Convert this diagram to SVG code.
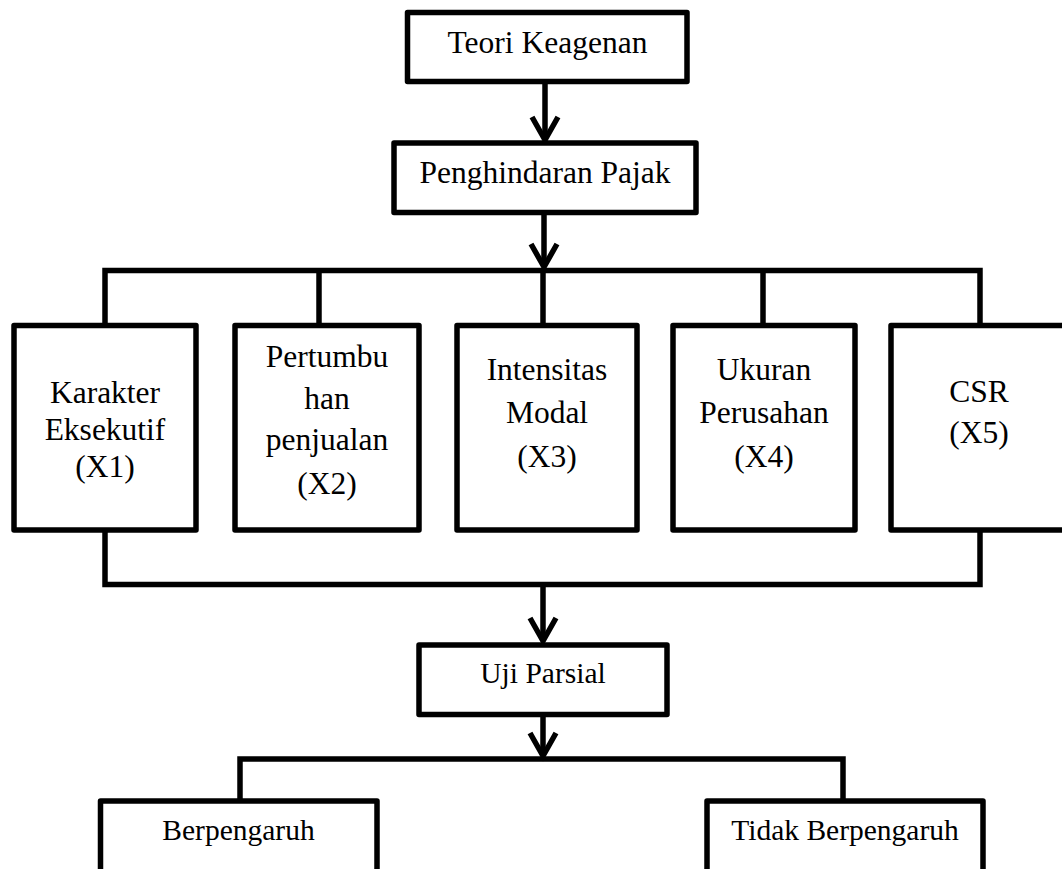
<svg xmlns="http://www.w3.org/2000/svg" width="1062" height="869" viewBox="0 0 1062 869">
<style>
.box{fill:#fff;stroke:#000;stroke-width:5.5;stroke-linejoin:round}
.ln{fill:none;stroke:#000;stroke-width:5.5;stroke-linejoin:miter;stroke-linecap:butt}
.hd{fill:none;stroke:#000;stroke-width:5.5;stroke-linejoin:miter;stroke-linecap:butt}
text{font-family:"Liberation Serif","Times New Roman",serif;font-size:31.5px;fill:#000;text-anchor:middle}
.sm{font-size:29.5px}
</style>
<rect width="1062" height="869" fill="#fff"/>
<g id="connectors">
<line class="ln" x1="545" y1="84" x2="545" y2="138"/>
<polyline class="hd" points="532,117 545,140 558,117"/>
<line class="ln" x1="544" y1="215" x2="544" y2="265"/>
<polyline class="hd" points="531,244 544,267 557,244"/>
<polyline class="ln" points="105,325 105,270.5 980,270.5 980,325"/>
<line class="ln" x1="319" y1="270.5" x2="319" y2="325"/>
<line class="ln" x1="543" y1="270.5" x2="543" y2="325"/>
<line class="ln" x1="763" y1="270.5" x2="763" y2="325"/>
<polyline class="ln" points="105,530 105,584.5 980,584.5 980,530"/>
<line class="ln" x1="543" y1="587" x2="543" y2="639"/>
<polyline class="hd" points="530,618 543,641 556,618"/>
<line class="ln" x1="543" y1="717" x2="543" y2="753"/>
<polyline class="hd" points="530,733 543,756 556,733"/>
<polyline class="ln" points="240,801 240,759 843,759 843,801"/>
</g>
<g id="teori">
<rect class="box" x="407.5" y="12.5" width="279.5" height="69"/>
<text x="547.5" y="53">Teori Keagenan</text>
</g>
<g id="penghindaran">
<rect class="box" x="394" y="143" width="302" height="69.5"/>
<text x="545" y="183">Penghindaran Pajak</text>
</g>
<g id="x1">
<rect class="box" x="14" y="325.5" width="182" height="204.5"/>
<text x="105" y="403">Karakter</text>
<text x="105" y="440">Eksekutif</text>
<text x="105" y="477">(X1)</text>
</g>
<g id="x2">
<rect class="box" x="235" y="325.5" width="184" height="204.5"/>
<text x="327" y="367">Pertumbu</text>
<text x="327" y="409">han</text>
<text x="327" y="450">penjualan</text>
<text x="327" y="494">(X2)</text>
</g>
<g id="x3">
<rect class="box" x="457" y="325.5" width="180" height="204.5"/>
<text x="547" y="380">Intensitas</text>
<text x="547" y="423">Modal</text>
<text x="547" y="467">(X3)</text>
</g>
<g id="x4">
<rect class="box" x="673" y="325.5" width="182" height="204.5"/>
<text x="764" y="380">Ukuran</text>
<text x="764" y="423">Perusahan</text>
<text x="764" y="467">(X4)</text>
</g>
<g id="x5">
<rect class="box" x="891" y="325.5" width="190" height="204.5"/>
<text x="979" y="402">CSR</text>
<text x="979" y="443">(X5)</text>
</g>
<g id="uji">
<rect class="box" x="419" y="645" width="248" height="69.5"/>
<text class="sm" x="543" y="683">Uji Parsial</text>
</g>
<g id="berpengaruh">
<rect class="box" x="100.5" y="801" width="276.5" height="100"/>
<text class="sm" x="238.5" y="840">Berpengaruh</text>
</g>
<g id="tidak">
<rect class="box" x="707" y="801" width="276" height="100"/>
<text class="sm" x="845" y="840">Tidak Berpengaruh</text>
</g>
</svg>
